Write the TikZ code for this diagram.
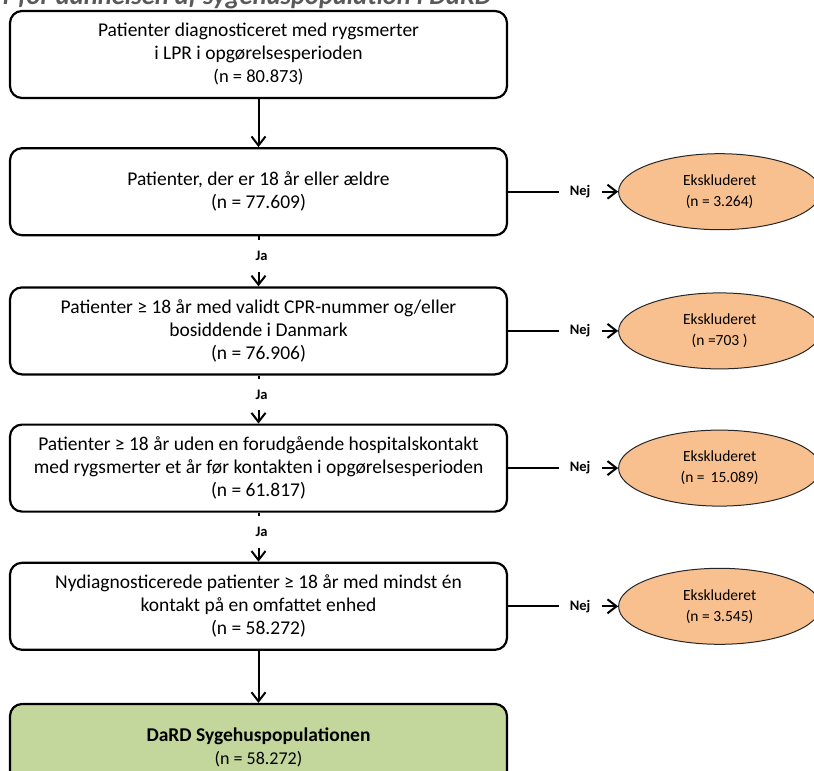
\documentclass[tikz,border=0pt]{standalone}
\usepackage{fontspec}
\setmainfont{Carlito}
\usepackage{tikz}
\usetikzlibrary{positioning, arrows.meta, shapes.geometric}
\definecolor{drdorange}{HTML}{F9C08F}
\definecolor{drdgreen}{HTML}{C3D69B}
\definecolor{drdgray}{HTML}{595959}

\begin{document}
\begin{tikzpicture}[
  x=1pt, y=-1pt,
  stepbox/.style={
    rectangle, rounded corners=12pt, draw=black, line width=2.2pt,
    fill=white, minimum width=497pt, minimum height=87pt,
    align=center, font=\fontsize{19.5}{23}\selectfont, inner sep=4pt
  },
  resultbox/.style={stepbox, fill=drdgreen},
  excl/.style={
    ellipse, draw=black!85, line width=1pt, fill=drdorange,
    minimum width=202pt, minimum height=76pt,
    align=center, font=\fontsize{15.5}{21}\selectfont, inner sep=0pt
  },
  answer/.style={font=\bfseries\fontsize{14.5}{16}\selectfont, inner sep=6pt},
  yes/.style={answer, inner xsep=2pt, inner ysep=11pt, yshift=5pt, xshift=3pt},
  no/.style={answer, inner xsep=11pt, pos=0.654},
  heading/.style={font=\bfseries\itshape\fontsize{26.5}{30}\selectfont, color=drdgray, inner sep=0pt},
  arr/.style={-{Straight Barb[length=9pt, width=14pt]}, line width=2pt},
  seg/.style={line width=2pt},
]

\useasboundingbox (0,0) rectangle (814,771);
\clip (0,0) rectangle (814,771);

% Heading (cut off by the top edge)
\node[heading, anchor=base east] (heading) at (492,5)
  {r for dannelsen af sygehuspopulation i DaRD};

% Steps
\node[stepbox] (all) at (258.5,54.5) {
  Patienter diagnosticeret med rygsmerter\\
  i LPR i opgørelsesperioden\\
  {\fontsize{18.5}{22}\selectfont(n = 80.873)}
};

\node[stepbox, below=48pt of all] (adult) {
  Patienter, der er 18 år eller ældre\\
  (n = 77.609)
};

\node[stepbox, below=50pt of adult] (cpr) {
  Patienter ≥ 18 år med validt CPR-nummer og/eller\\
  bosiddende i Danmark\\
  (n = 76.906)
};

\node[stepbox, below=48pt of cpr] (prior) {
  Patienter ≥ 18 år uden en forudgående hospitalskontakt\\
  med rygsmerter et år før kontakten i opgørelsesperioden\\
  (n = 61.817)
};

\node[stepbox, below=49pt of prior] (newdiag) {
  Nydiagnosticerede patienter ≥ 18 år med mindst én\\
  kontakt på en omfattet enhed\\
  (n = 58.272)
};

\node[resultbox, below=52pt of newdiag] (final) {
  \textbf{DaRD Sygehuspopulationen}\\
  {\fontsize{18}{22}\selectfont(n = 58.272)}
};

% Excluded
\node[excl, right=110pt of adult] (exadult) {Ekskluderet\\(n = 3.264)};
\node[excl, right=110pt of cpr] (excpr) {Ekskluderet\\(n =703 )};
\node[excl, right=110pt of prior] (exprior) {Ekskluderet\\(n = \,15.089)};
\node[excl, right=110pt of newdiag] (exnew) {Ekskluderet\\(n = 3.545)};

% Arrows down
\draw[arr] (all) -- (adult);
\path (adult) -- node[yes] (ja1) {Ja} (cpr);
\draw[seg] (adult.south) -- (adult.south |- ja1.north);
\draw[arr] (adult.south |- ja1.south) -- (cpr);
\path (cpr) -- node[yes] (ja2) {Ja} (prior);
\draw[seg] (cpr.south) -- (cpr.south |- ja2.north);
\draw[arr] (cpr.south |- ja2.south) -- (prior);
\path (prior) -- node[yes] (ja3) {Ja} (newdiag);
\draw[seg] (prior.south) -- (prior.south |- ja3.north);
\draw[arr] (prior.south |- ja3.south) -- (newdiag);
\draw[arr] (newdiag) -- (final);

% Arrows right
\path (adult) -- node[no] (nej1) {Nej} (exadult);
\draw[seg] (adult) -- (nej1);
\draw[arr] (nej1) -- (exadult);
\path (cpr) -- node[no] (nej2) {Nej} (excpr);
\draw[seg] (cpr) -- (nej2);
\draw[arr] (nej2) -- (excpr);
\path (prior) -- node[no] (nej3) {Nej} (exprior);
\draw[seg] (prior) -- (nej3);
\draw[arr] (nej3) -- (exprior);
\path (newdiag) -- node[no] (nej4) {Nej} (exnew);
\draw[seg] (newdiag) -- (nej4);
\draw[arr] (nej4) -- (exnew);

\end{tikzpicture}
\end{document}
